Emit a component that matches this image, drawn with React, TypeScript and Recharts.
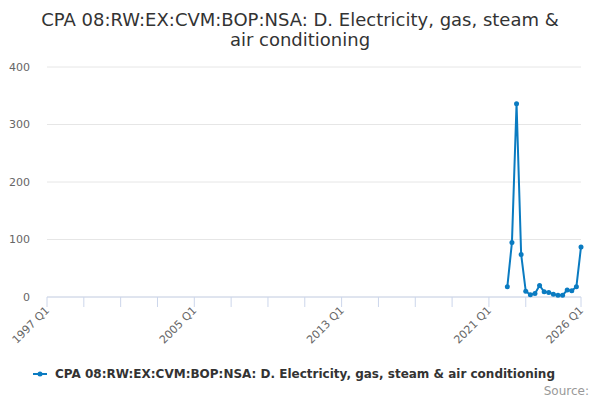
import { CartesianGrid, Line, LineChart, XAxis, YAxis } from "recharts";

const periods = [
  "2022 Q1", "2022 Q2", "2022 Q3", "2022 Q4",
  "2023 Q1", "2023 Q2", "2023 Q3", "2023 Q4",
  "2024 Q1", "2024 Q2", "2024 Q3", "2024 Q4",
  "2025 Q1", "2025 Q2", "2025 Q3", "2025 Q4",
  "2026 Q1",
];
const values = [18, 95, 336, 74, 10, 4, 6, 20, 9, 8, 5, 3, 3, 12, 11, 18, 87];

const xTickPeriods = [
  "1997 Q1", "1999 Q1", "2001 Q1", "2003 Q1", "2005 Q1", "2007 Q1", "2009 Q1",
  "2011 Q1", "2013 Q1", "2015 Q1", "2017 Q1", "2019 Q1", "2021 Q1", "2023 Q1",
  "2026 Q1",
];
const xLabelPeriods = ["1997 Q1", "2005 Q1", "2013 Q1", "2021 Q1", "2026 Q1"];
const yTicks = [0, 100, 200, 300, 400];

const seriesName = "CPA 08:RW:EX:CVM:BOP:NSA: D. Electricity, gas, steam & air conditioning";
const color = "#0a7bc1";
const font = "'DejaVu Sans', sans-serif";

const startYear = 1997;
const toIndex = (p: string) => {
  const [y, q] = p.split(" Q");
  return (Number(y) - startYear) * 4 + Number(q) - 1;
};
const toPeriod = (i: number) => `${startYear + Math.floor(i / 4)} Q${(i % 4) + 1}`;

const data = periods.map((p, i) => ({ t: toIndex(p), value: values[i] }));

function XTick(props: any) {
  const { x, y, payload } = props;
  const label = toPeriod(payload.value);
  const show = xLabelPeriods.includes(label);
  return (
    <g>
      <line x1={x} x2={x} y1={y} y2={y + 10} stroke="#ccd6eb" />
      {show && (
        <text
          transform={`translate(${x + 3},${y + 14}) rotate(-45)`}
          textAnchor="end"
          fontSize={11}
          fill="#666"
          fontFamily={font}
        >
          {label}
        </text>
      )}
    </g>
  );
}

export default function App() {
  return (
    <div
      style={{
        position: "fixed",
        left: 0,
        top: 0,
        width: 600,
        height: 400,
        background: "#fff",
        fontFamily: font,
      }}
    >
      <div
        style={{
          position: "absolute",
          top: 10,
          left: 0,
          width: 600,
          textAlign: "center",
          fontSize: 18,
          lineHeight: "20px",
          color: "#333",
        }}
      >
        CPA 08:RW:EX:CVM:BOP:NSA: D. Electricity, gas, steam &amp;
        <br />
        air conditioning
      </div>
      <LineChart
        width={600}
        height={400}
        data={data}
        margin={{ top: 67, right: 19, left: 0, bottom: 43 }}
      >
        <CartesianGrid horizontal vertical={false} stroke="#e6e6e6" />
        <XAxis
          dataKey="t"
          type="number"
          domain={[0, 116]}
          ticks={xTickPeriods.map(toIndex)}
          interval={0}
          height={60}
          axisLine={{ stroke: "#ccd6eb" }}
          tickLine={false}
          tickSize={0}
          tickMargin={0}
          tick={<XTick />}
        />
        <YAxis
          width={47}
          domain={[0, 400]}
          ticks={yTicks}
          axisLine={false}
          tickLine={false}
          tickSize={0}
          tickMargin={17}
          tick={{ fontSize: 11, fill: "#666", fontFamily: font }}
        />
        <Line
          type="linear"
          dataKey="value"
          stroke={color}
          strokeWidth={2}
          dot={{ r: 2.5, fill: color, stroke: color, strokeWidth: 0 }}
          isAnimationActive={false}
        />
      </LineChart>
      <div
        style={{
          position: "absolute",
          top: 367,
          left: 33,
          display: "flex",
          alignItems: "center",
          fontSize: 12,
          fontWeight: "bold",
          color: "#333",
          whiteSpace: "nowrap",
        }}
      >
        <svg width={14} height={12} style={{ marginRight: 8 }}>
          <line x1={0} x2={14} y1={6} y2={6} stroke={color} strokeWidth={2} />
          <circle cx={7} cy={6} r={2.5} fill={color} />
        </svg>
        <span>{seriesName}</span>
      </div>
      <div
        style={{
          position: "absolute",
          top: 384,
          right: 11,
          fontSize: 12,
          color: "#999",
        }}
      >
        Source:
      </div>
    </div>
  );
}
